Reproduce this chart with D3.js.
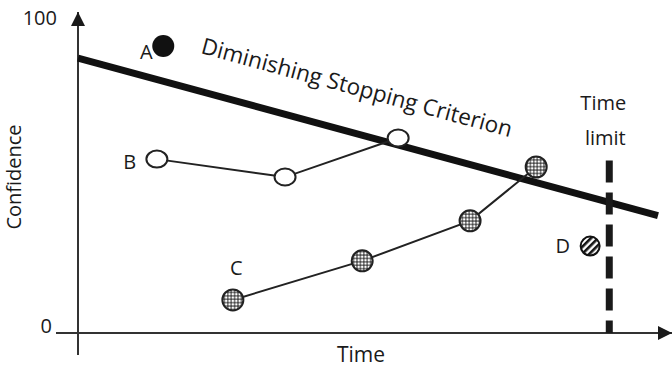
<!DOCTYPE html>
<html>
<head>
<meta charset="utf-8">
<script src="https://cdn.jsdelivr.net/npm/d3@7"></script>
<style>
  html, body { margin: 0; padding: 0; background: #fff; }
  svg text { font-family: "Open Sans", "Noto Sans", sans-serif; fill: #1a1a1a; }
</style>
</head>
<body>
<svg id="chart" width="672" height="368"></svg>
<script>
// ---- data (time 0..100, confidence 0..100) ----
const yTickValues = [0, 100];
const yTickLabels = ["0", "100"];
const criterion = [[0, 87.3], [100, 37.3]];
const seriesA = [[14.7, 91.1]];
const seriesB = [[13.6, 55.2], [35.7, 49.5], [55.2, 61.9]];
const seriesC = [[26.7, 10.5], [49.0, 22.9], [67.6, 35.6], [79.0, 52.7]];
const seriesD = [[88.3, 27.6]];
const timeLimit = 91.6;
const timeLimitTop = 54.8;
const pointLabels = [
  { name: "A", pos: [11.8, 89.2] },
  { name: "B", pos: [8.9, 54.3] },
  { name: "C", pos: [27.3, 20.6] },
  { name: "D", pos: [83.6, 27.6] }
];

const svg = d3.select("#chart");
const x = d3.scaleLinear().domain([0, 100]).range([78, 658]);
const y = d3.scaleLinear().domain([0, 100]).range([333, 18]);

// patterns
const defs = svg.append("defs");
const cross = defs.append("pattern").attr("id", "cross")
  .attr("patternUnits", "userSpaceOnUse").attr("width", 3.4).attr("height", 3.4);
cross.append("rect").attr("width", 3.4).attr("height", 3.4).attr("fill", "#444");
cross.append("circle").attr("cx", 1.7).attr("cy", 1.7).attr("r", 1.3).attr("fill", "#fff");
const stripes = defs.append("pattern").attr("id", "stripes")
  .attr("patternUnits", "userSpaceOnUse").attr("width", 5).attr("height", 5)
  .attr("patternTransform", "rotate(45)");
stripes.append("rect").attr("width", 5).attr("height", 5).attr("fill", "#fff");
stripes.append("rect").attr("width", 2.6).attr("height", 5).attr("fill", "#111");

defs.append("marker").attr("id", "arrowX").attr("viewBox", "0 0 10 10")
  .attr("refX", 10).attr("refY", 5).attr("markerWidth", 16).attr("markerHeight", 14)
  .attr("markerUnits", "userSpaceOnUse").attr("orient", "auto")
  .append("path").attr("d", "M0,0 L10,5 L0,10 Z").attr("fill", "#1a1a1a");
defs.append("marker").attr("id", "arrowY").attr("viewBox", "0 0 10 10")
  .attr("refX", 10).attr("refY", 5).attr("markerWidth", 16).attr("markerHeight", 14)
  .attr("markerUnits", "userSpaceOnUse").attr("orient", "auto")
  .append("path").attr("d", "M0,0 L10,5 L0,10 Z").attr("fill", "#1a1a1a");

// axes
svg.append("line").attr("x1", x(0)).attr("y1", y(0) + 22).attr("x2", x(0)).attr("y2", 12)
  .attr("stroke", "#333").attr("stroke-width", 2).attr("marker-end", "url(#arrowY)");
svg.append("line").attr("x1", x(0) - 22).attr("y1", y(0)).attr("x2", 672).attr("y2", y(0))
  .attr("stroke", "#333").attr("stroke-width", 2).attr("marker-end", "url(#arrowX)");

const yAxis = d3.axisLeft(y).tickValues(yTickValues)
  .tickFormat((d, i) => yTickLabels[i]).tickSize(0).tickPadding(0);
const yg = svg.append("g").attr("transform", `translate(${x(0) - 26},0)`).call(yAxis);
yg.select(".domain").remove();
yg.selectAll("text").style("font-size", "20px").style("font-family", "'Open Sans', sans-serif")
  .attr("fill", "#1a1a1a").attr("dy", (d) => d === 0 ? "-0.05em" : "0.32em");
yg.selectAll(".tick").filter(d => d === 100).select("text").attr("x", 5);

svg.append("text").attr("x", 361).attr("y", 362).attr("text-anchor", "middle")
  .style("font-size", "21px").text("Time");
svg.append("text").attr("transform", `translate(21,${177}) rotate(-90)`)
  .attr("text-anchor", "middle").style("font-size", "20px").text("Confidence");

// criterion
const line = d3.line().x(d => x(d[0])).y(d => y(d[1]));
svg.append("path").datum(criterion).attr("d", line)
  .attr("stroke", "#111").attr("stroke-width", 7).attr("fill", "none");
const ang = Math.atan2(y(criterion[1][1]) - y(criterion[0][1]), x(criterion[1][0]) - x(criterion[0][0])) * 180 / Math.PI;
svg.append("text").attr("transform", `translate(200,53) rotate(${ang})`)
  .style("font-size", "22.5px").text("Diminishing Stopping Criterion");

// time limit
svg.append("line").attr("x1", x(timeLimit)).attr("x2", x(timeLimit))
  .attr("y1", y(timeLimitTop)).attr("y2", y(0))
  .attr("stroke", "#1a1a1a").attr("stroke-width", 7).attr("stroke-dasharray", "22,10");
svg.append("text").attr("x", x(timeLimit) - 6).attr("y", 110).attr("text-anchor", "middle")
  .style("font-size", "20px").text("Time");
svg.append("text").attr("x", x(timeLimit) - 4).attr("y", 145).attr("text-anchor", "middle")
  .style("font-size", "20px").text("limit");

// series lines
svg.append("path").datum(seriesB).attr("d", line).attr("stroke", "#222").attr("stroke-width", 2).attr("fill", "none");
svg.append("path").datum(seriesC).attr("d", line).attr("stroke", "#222").attr("stroke-width", 2).attr("fill", "none");

// markers
svg.selectAll(".pa").data(seriesA).join("circle")
  .attr("cx", d => x(d[0])).attr("cy", d => y(d[1])).attr("r", 11).attr("fill", "#111");
svg.selectAll(".pb").data(seriesB).join("ellipse")
  .attr("cx", d => x(d[0])).attr("cy", d => y(d[1])).attr("rx", 10.5).attr("ry", 8.5)
  .attr("fill", "#fff").attr("stroke", "#222").attr("stroke-width", 2);
svg.selectAll(".pc").data(seriesC).join("circle")
  .attr("cx", d => x(d[0])).attr("cy", d => y(d[1])).attr("r", 10.5)
  .attr("fill", "url(#cross)").attr("stroke", "#222").attr("stroke-width", 2);
svg.selectAll(".pd").data(seriesD).join("circle")
  .attr("cx", d => x(d[0])).attr("cy", d => y(d[1])).attr("r", 9.5)
  .attr("fill", "url(#stripes)").attr("stroke", "#111").attr("stroke-width", 2);

svg.selectAll(".lbl").data(pointLabels).join("text")
  .attr("x", d => x(d.pos[0])).attr("y", d => y(d.pos[1])).attr("dy", "0.35em")
  .attr("text-anchor", "middle").style("font-size", "20px").text(d => d.name);
</script>
</body>
</html>
